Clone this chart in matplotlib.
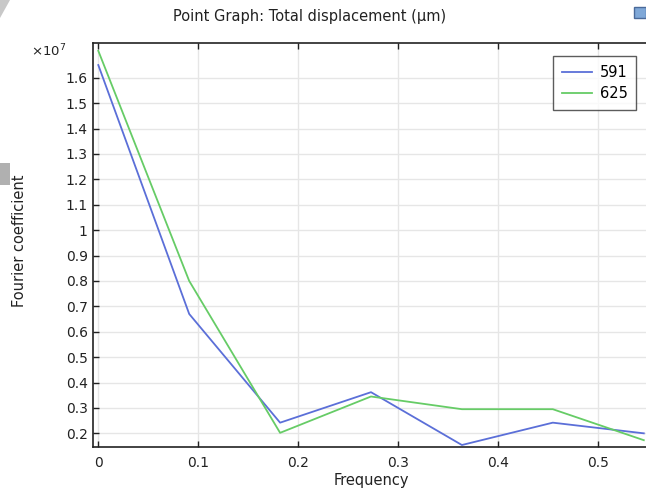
import matplotlib
matplotlib.use("Agg")
import matplotlib.pyplot as plt
from matplotlib.ticker import FuncFormatter, FixedLocator
from matplotlib.patches import Rectangle, Polygon

freq = [0.0, 0.0909, 0.1818, 0.2727, 0.3636, 0.4545, 0.5455]
s591 = [1.650e7, 0.670e7, 0.242e7, 0.362e7, 0.154e7, 0.242e7, 0.200e7]
s625 = [1.706e7, 0.800e7, 0.202e7, 0.345e7, 0.295e7, 0.295e7, 0.173e7]
labels = ["591", "625"]
xticks = [0.0, 0.1, 0.2, 0.3, 0.4, 0.5]
yticks = [0.2e7, 0.3e7, 0.4e7, 0.5e7, 0.6e7, 0.7e7, 0.8e7, 0.9e7, 1.0e7,
          1.1e7, 1.2e7, 1.3e7, 1.4e7, 1.5e7, 1.6e7]

W, H = 646, 490
fig = plt.figure(figsize=(W / 100, H / 100), dpi=100)
fig.patch.set_facecolor("white")

L, R, T, B = 93.3, 650, 42.7, 447.3
ax = fig.add_axes([L / W, 1 - B / H, (R - L) / W, (B - T) / H])

c_blue = "#5b6fd8"
c_green = "#66cc66"
ax.plot(freq, s591, color=c_blue, lw=1.3, label=labels[0])
ax.plot(freq, s625, color=c_green, lw=1.3, label=labels[1])

ax.set_xlim(-0.005, (R - 98.3) / 1000)
ax.set_ylim(0.145e7, 1.738e7)
ax.xaxis.set_major_locator(FixedLocator(xticks))
ax.yaxis.set_major_locator(FixedLocator(yticks))
ax.xaxis.set_major_formatter(FuncFormatter(lambda v, p: "%g" % round(v, 3)))
ax.yaxis.set_major_formatter(FuncFormatter(lambda v, p: "%g" % round(v / 1e7, 3)))
ax.tick_params(axis="both", direction="in", length=4, width=1, labelsize=10,
               colors="#222222", top=True, right=False)
ax.tick_params(axis="x", pad=6)
ax.tick_params(axis="y", pad=4)
ax.grid(True, color="#e6e6e6", lw=1)
ax.set_axisbelow(True)
for s in ["left", "bottom", "top"]:
    ax.spines[s].set_color("#222222")
    ax.spines[s].set_linewidth(1.2)
ax.spines["right"].set_visible(False)

leg = ax.legend(loc="upper left", bbox_to_anchor=((553 - L) / (R - L), 1 - (56 - T) / (B - T)),
                fontsize=10.5, frameon=True, fancybox=False, edgecolor="#333333",
                handlelength=2.1, handletextpad=0.5, borderpad=0.6, labelspacing=0.45,
                borderaxespad=0)
leg.get_frame().set_linewidth(1)

fig.text(310 / W, 1 - 17 / H, "Point Graph: Total displacement (μm)", ha="center", va="center",
         fontsize=10.5, color="#222222")
fig.text(371 / W, 1 - 480 / H, "Frequency", ha="center", va="center", fontsize=10.5, color="#222222")
fig.text(20 / W, 1 - 241 / H, "Fourier coefficient", ha="center", va="center", rotation=90,
         fontsize=10.5, color="#222222")
fig.text(31 / W, 1 - 51 / H, r"$\times10^{7}$", ha="left", va="center", fontsize=9.5, color="#222222")

fig.patches.append(Rectangle((0, 1 - 185 / H), 10 / W, 22 / H, transform=fig.transFigure,
                             facecolor="#b0b0b0", edgecolor="none"))
fig.patches.append(Polygon([(0, 1), (10 / W, 1), (0, 1 - 18 / H)], closed=True,
                           transform=fig.transFigure, facecolor="#c8c8c8", edgecolor="none"))
fig.patches.append(Rectangle((634 / W, 1 - 18 / H), 12 / W, 11 / H, transform=fig.transFigure,
                             facecolor="#7fa8d8", edgecolor="#4a6a9a", lw=1))

fig.savefig("out.png", dpi=100)
